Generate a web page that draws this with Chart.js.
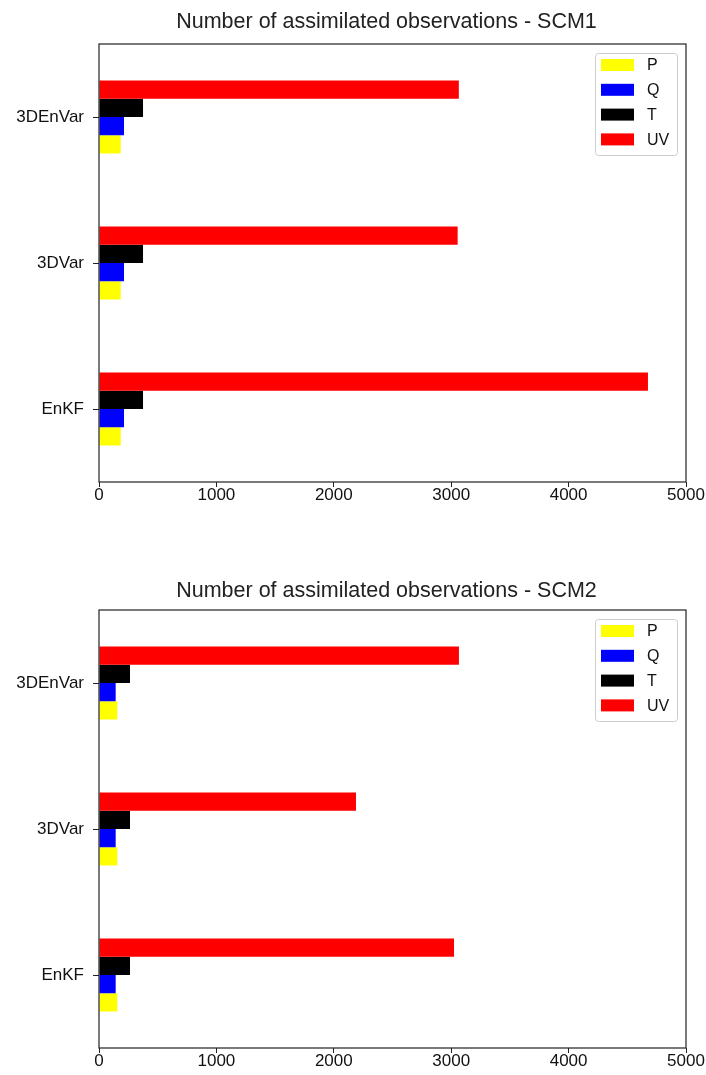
<!DOCTYPE html>
<html>
<head>
<meta charset="utf-8">
<script src="https://cdn.jsdelivr.net/npm/chart.js@4.4.0/dist/chart.umd.min.js"></script>
<style>
    html, body { margin: 0; padding: 0; background: #fff; }
    canvas { display: block; }
</style>
</head>
<body>
<canvas id="scm1Chart" width="706" height="537"></canvas>
<canvas id="scm2Chart" width="706" height="538"></canvas>
<script>
// Assimilation methods, listed top to bottom
const methods = ['3DEnVar', '3DVar', 'EnKF'];

// Observation types (legend order)
const obsTypes = ['P', 'Q', 'T', 'UV'];
const obsColors = ['#ffff00', '#0000ff', '#000000', '#ff0000'];

// SCM1 counts per method
const scm1P = [185, 185, 185];
const scm1Q = [213, 213, 213];
const scm1T = [375, 375, 375];
const scm1UV = [3065, 3055, 4676];

// SCM2 counts per method
const scm2P = [156, 156, 156];
const scm2Q = [142, 142, 142];
const scm2T = [264, 264, 264];
const scm2UV = [3066, 2189, 3024];

const xTicks = [0, 1000, 2000, 3000, 4000, 5000];

const FONT = "'Liberation Sans', Arial, sans-serif";

// Title centred over the plot frame
const titlePlugin = {
    id: 'frameTitle',
    afterDraw(chart, args, opts) {
        const { ctx, chartArea } = chart;
        ctx.save();
        ctx.font = `21.5px ${FONT}`;
        ctx.fillStyle = '#222';
        ctx.textAlign = 'center';
        ctx.textBaseline = 'middle';
        ctx.fillText(opts.text, (chartArea.left + chartArea.right) / 2 - 6, opts.y);
        ctx.restore();
    }
};

// Box around the plotting area (all four spines)
const framePlugin = {
    id: 'frame',
    afterDraw(chart) {
        const { ctx, chartArea } = chart;
        ctx.save();
        ctx.strokeStyle = '#222';
        ctx.lineWidth = 1.2;
        ctx.strokeRect(chartArea.left, chartArea.top,
            chartArea.right - chartArea.left, chartArea.bottom - chartArea.top);
        ctx.restore();
    }
};

// Legend box drawn inside the upper right corner
const innerLegendPlugin = {
    id: 'innerLegend',
    afterDraw(chart) {
        const { ctx, chartArea } = chart;
        const items = chart.data.datasets.slice().reverse();
        const boxW = 82, boxH = 102;
        const x0 = chartArea.right - 9 - boxW;
        const y0 = chartArea.top + 9;
        ctx.save();
        ctx.fillStyle = 'rgba(255,255,255,0.8)';
        ctx.strokeStyle = '#cccccc';
        ctx.lineWidth = 1;
        ctx.beginPath();
        ctx.roundRect(x0 + 0.5, y0 + 0.5, boxW, boxH, 3);
        ctx.fill();
        ctx.stroke();
        ctx.font = `16px ${FONT}`;
        ctx.textBaseline = 'middle';
        items.forEach((ds, i) => {
            const cy = y0 + 12 + i * 24.8;
            ctx.fillStyle = ds.backgroundColor;
            ctx.fillRect(x0 + 6, cy - 6, 33, 12);
            ctx.fillStyle = '#111';
            ctx.fillText(ds.label, x0 + 52, cy + 1);
        });
        ctx.restore();
    }
};

const buildChart = (canvasId, title, series, layout) => {
    // bars stack top-down in dataset order, so UV goes first
    const datasets = obsTypes.map((name, i) => ({
        label: name,
        data: series[i],
        backgroundColor: obsColors[i],
        borderWidth: 0,
        categoryPercentage: 0.5,
        barPercentage: 1.0
    })).reverse();

    new Chart(document.getElementById(canvasId), {
        type: 'bar',
        data: { labels: methods, datasets },
        options: {
            indexAxis: 'y',
            responsive: false,
            animation: false,
            devicePixelRatio: 1,
            layout: { padding: { top: layout.top, right: 20, left: 0, bottom: 0 } },
            plugins: {
                legend: { display: false },
                tooltip: { enabled: false },
                frameTitle: { text: title, y: layout.titleY }
            },
            scales: {
                x: {
                    min: 0,
                    max: 5000,
                    afterBuildTicks: scale => {
                        scale.ticks = xTicks.map(v => ({ value: v }));
                    },
                    afterFit: scale => {
                        scale.height = layout.axisH;
                        // let the last label hang into the right margin
                        scale.paddingLeft = 0;
                        scale.paddingRight = 0;
                    },
                    grid: {
                        drawOnChartArea: false,
                        drawTicks: true,
                        tickLength: 5,
                        color: '#222'
                    },
                    border: { display: false },
                    ticks: {
                        color: '#111',
                        padding: -2,
                        maxRotation: 0,
                        font: { family: FONT, size: 17 },
                        callback: value => String(value)
                    }
                },
                y: {
                    afterFit: scale => { scale.width = 99; },
                    grid: {
                        offset: false,
                        drawOnChartArea: false,
                        drawTicks: true,
                        tickLength: 6,
                        color: '#222'
                    },
                    border: { display: false },
                    ticks: {
                        color: '#111',
                        padding: 9,
                        font: { family: FONT, size: 17 }
                    }
                }
            }
        },
        plugins: [titlePlugin, framePlugin, innerLegendPlugin]
    });
};

document.addEventListener('DOMContentLoaded', () => {
    buildChart('scm1Chart', 'Number of assimilated observations - SCM1',
        [scm1P, scm1Q, scm1T, scm1UV], { top: 44, axisH: 55, titleY: 22 });
    buildChart('scm2Chart', 'Number of assimilated observations - SCM2',
        [scm2P, scm2Q, scm2T, scm2UV], { top: 73, axisH: 27, titleY: 54 });
});
</script>
</body>
</html>
